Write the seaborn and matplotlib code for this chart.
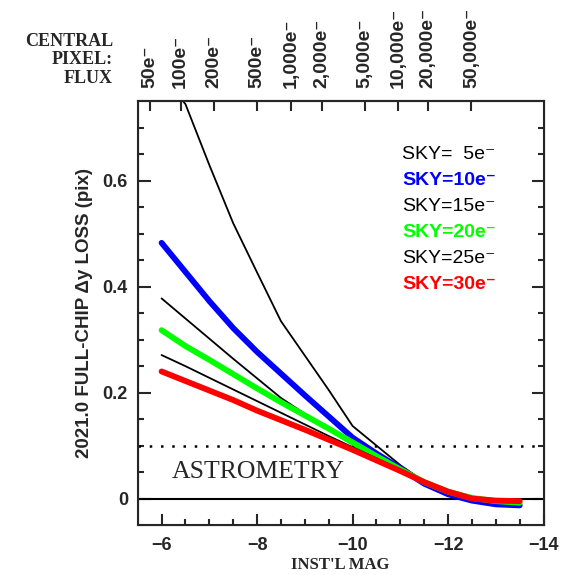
import pandas as pd
import matplotlib
matplotlib.use("Agg")
import matplotlib.pyplot as plt
import seaborn as sns

sns.set_style("ticks")
plt.rcParams["font.family"] = ["Liberation Sans", "DejaVu Sans"]
plt.rcParams["font.weight"] = "bold"

# instrumental magnitudes and loss curves (pix) for each sky level
mags = [-6, -6.5, -7, -7.5, -8, -8.5, -9, -9.5, -10, -10.5, -11, -11.5, -12, -12.5, -13, -13.5]
sky5 = [0.80, 0.745, 0.63, 0.52, 0.427, 0.335, 0.27, 0.205, 0.137, 0.100, 0.063, 0.032, 0.013, 0.002, -0.004, -0.007]
sky10 = [0.483, 0.428, 0.373, 0.322, 0.277, 0.236, 0.195, 0.155, 0.115, 0.085, 0.057, 0.028, 0.008, -0.004, -0.011, -0.013]
sky15 = [0.378, 0.34, 0.302, 0.264, 0.227, 0.19, 0.16, 0.13, 0.102, 0.077, 0.053, 0.03, 0.012, 0.0, -0.006, -0.009]
sky20 = [0.318, 0.288, 0.262, 0.235, 0.208, 0.182, 0.157, 0.132, 0.106, 0.08, 0.055, 0.031, 0.013, 0.001, -0.005, -0.008]
sky25 = [0.271, 0.25, 0.228, 0.206, 0.184, 0.162, 0.14, 0.118, 0.097, 0.076, 0.054, 0.031, 0.013, 0.001, -0.005, -0.007]
sky30 = [0.24, 0.222, 0.204, 0.186, 0.166, 0.148, 0.13, 0.111, 0.092, 0.072, 0.052, 0.031, 0.013, 0.0, -0.004, -0.005]

sky_levels = [5, 10, 15, 20, 25, 30]
sky_labels = ["SKY=  5e\u207b", "SKY=10e\u207b", "SKY=15e\u207b", "SKY=20e\u207b", "SKY=25e\u207b", "SKY=30e\u207b"]

# top axis: central pixel flux
flux_mags = [-5.76, -6.40, -7.09, -7.99, -8.72, -9.35, -10.25, -10.96, -11.58, -12.49]
flux_labels = ["50e\u207b", "100e\u207b", "200e\u207b", "500e\u207b", "1,000e\u207b", "2,000e\u207b",
               "5,000e\u207b", "10,000e\u207b", "20,000e\u207b", "50,000e\u207b"]

df = pd.concat(
    [pd.DataFrame({"mag": mags, "loss": v, "sky": s})
     for s, v in zip(sky_levels, [sky5, sky10, sky15, sky20, sky25, sky30])],
    ignore_index=True,
)

colors = {5: "black", 10: "#0000ff", 15: "black", 20: "#00ff00", 25: "black", 30: "#ff0000"}
widths = {5: 1.3, 10: 4.2, 15: 1.3, 20: 4.2, 25: 1.3, 30: 4.2}

fig = plt.figure(figsize=(5.82, 5.75), dpi=100)
ax = fig.add_axes([0.2366, 0.087, 0.6974, 0.7365])

for s in sky_levels:
    sns.lineplot(data=df[df.sky == s], x="mag", y="loss", color=colors[s],
                 lw=widths[s], ax=ax, legend=False, zorder=3)

ax.axhline(0, color="black", lw=1.5, zorder=2)
ax.axhline(0.1, color="black", lw=1.8, dashes=(1.0, 3.5), zorder=2)

ax.set_xlim(-5.5, -14)
ax.set_ylim(-0.05, 0.75)
ax.set_xticks([-6, -8, -10, -12, -14])
ax.set_xticks([m / 2 for m in range(-27, -11)], minor=True)
ax.set_yticks([0, 0.2, 0.4, 0.6])
ax.set_yticklabels(["0", "0.2", "0.4", "0.6"])
ax.set_yticks([i * 0.05 for i in range(0, 15)], minor=True)
ax.tick_params(axis="both", which="both", direction="in", width=1.5, top=False, right=True,
               labelsize=13)
ax.tick_params(axis="x", which="major", length=8, pad=9)
ax.tick_params(axis="x", which="minor", length=4)
ax.tick_params(axis="y", which="major", length=9, pad=7)
ax.tick_params(axis="y", which="minor", length=4.5)
for sp in ax.spines.values():
    sp.set_linewidth(1.5)

ax.set_xlabel("INST'L MAG", family="Liberation Serif", fontweight="bold", fontsize=12, labelpad=2)
ax.set_ylabel("2021.0 FULL-CHIP \u0394y LOSS (pix)", fontweight="bold", fontsize=13.5, labelpad=7)

# flux scale along the top
top = ax.twiny()
top.set_xlim(ax.get_xlim())
top.set_xticks(flux_mags, flux_labels, fontsize=14, fontweight="bold", rotation=90)
top.set_xticks([], minor=True)
top.tick_params(axis="x", direction="in", length=7, width=1.5, pad=9.5)
top.spines["top"].set_linewidth(1.5)
top.grid(False)

fig.text(0.194, 0.896, "CENTRAL\nPIXEL:\nFLUX", ha="right", va="center", family="Liberation Serif",
         fontweight="bold", fontsize=13, linespacing=1.1)

for i, (s, lab) in enumerate(zip(sky_levels, sky_labels)):
    bold = colors[s] != "black"
    ax.text(0.651, 0.874 - i * 0.0614, lab, transform=ax.transAxes, color=colors[s],
            fontsize=14, fontweight="bold" if bold else "normal", va="center", ha="left")

ax.text(0.085, 0.125, "ASTROMETRY", transform=ax.transAxes, family="Liberation Serif",
        fontsize=18.5, fontweight="normal", va="center", ha="left")

fig.savefig("out.png", dpi=100)
